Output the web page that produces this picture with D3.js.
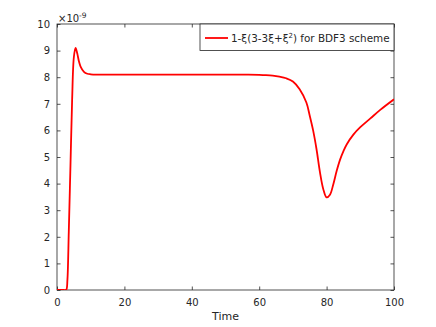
<!DOCTYPE html>
<html>
<head>
<meta charset="utf-8">
<script src="https://cdn.jsdelivr.net/npm/d3@7"></script>
<style>
  body { margin: 0; background: #fff; }
  text { font-family: "DejaVu Sans", sans-serif; fill: #262626; }
</style>
</head>
<body>
<div id="chart"></div>
<script>
// values (y in units of 1e-9)
const timeValues = [0, 1, 2, 2.5, 2.8, 3.1, 3.5, 4, 4.5, 5, 5.5, 6, 6.5, 7, 8, 9, 10, 12, 15, 20, 25, 30, 35, 40, 45, 50, 55, 60, 62, 64, 66, 68, 70, 72, 74, 75, 76, 77, 78, 79, 80, 81, 82, 83, 84, 85, 86, 88, 90, 93, 96, 100];
const errValues  = [0, 0, 0, 0, 0.02, 0.4, 2.2, 4.7, 7.2, 8.75, 9.1, 8.9, 8.6, 8.4, 8.2, 8.13, 8.11, 8.1, 8.1, 8.1, 8.1, 8.1, 8.1, 8.1, 8.1, 8.1, 8.1, 8.09, 8.08, 8.06, 8.02, 7.96, 7.84, 7.55, 7.05, 6.55, 6.0, 5.3, 4.45, 3.8, 3.48, 3.58, 3.98, 4.48, 4.9, 5.22, 5.48, 5.85, 6.12, 6.45, 6.78, 7.17];
const xTicks = [0, 20, 40, 60, 80, 100];
const yTicks = [0, 1, 2, 3, 4, 5, 6, 7, 8, 9, 10];
const seriesName = "for BDF3 scheme";

const W = 436, H = 327;
const margin = {top: 24, right: 42, bottom: 37, left: 57};
const width = W - margin.left - margin.right;
const height = H - margin.top - margin.bottom;

const svg = d3.select("#chart").append("svg")
    .attr("width", W)
    .attr("height", H);

const g = svg.append("g")
    .attr("transform", "translate(" + margin.left + "," + margin.top + ")");

const x = d3.scaleLinear().domain([0, 100]).range([0, width]);
const y = d3.scaleLinear().domain([0, 10]).range([height, 0]);

const axisColor = "#262626";

// box
g.append("rect")
    .attr("width", width)
    .attr("height", height)
    .attr("fill", "none")
    .attr("stroke", axisColor)
    .attr("stroke-width", 0.8);

// axes, ticks pointing inward
function style(sel) {
    sel.select(".domain").remove();
    sel.selectAll("line").attr("stroke", axisColor).attr("stroke-width", 0.8);
    sel.selectAll("text").attr("fill", axisColor).style("font-size", "10px")
        .style("font-family", "'DejaVu Sans', sans-serif");
}

g.append("g")
    .attr("transform", "translate(0," + height + ")")
    .call(d3.axisBottom(x).tickValues(xTicks).tickSizeInner(-3.5).tickSizeOuter(0).tickPadding(9))
    .call(style);
g.append("g")
    .call(d3.axisTop(x).tickValues(xTicks).tickSizeInner(-3.5).tickSizeOuter(0).tickFormat(""))
    .call(style);
g.append("g")
    .call(d3.axisLeft(y).tickValues(yTicks).tickSizeInner(-3.5).tickSizeOuter(0).tickPadding(7))
    .call(style);
g.append("g")
    .attr("transform", "translate(" + width + ",0)")
    .call(d3.axisRight(y).tickValues(yTicks).tickSizeInner(-3.5).tickSizeOuter(0).tickFormat(""))
    .call(style);

// exponent label
const expo = svg.append("text")
    .attr("x", margin.left + 1)
    .attr("y", margin.top - 2)
    .style("font-size", "10px");
expo.append("tspan").text("\u00d710");
expo.append("tspan").attr("dy", -4).style("font-size", "7.5px").text("-9");

// x label
svg.append("text")
    .attr("x", margin.left + width / 2)
    .attr("y", 320)
    .attr("text-anchor", "middle")
    .style("font-size", "11px")
    .text("Time");

// curve, clipped to the box
g.append("clipPath").attr("id", "clip")
    .append("rect").attr("width", width).attr("height", height);

const data = timeValues.map((t, i) => ({t: t, v: errValues[i]}));
const line = d3.line()
    .x(d => x(d.t))
    .y(d => y(d.v))
    .curve(d3.curveCatmullRom.alpha(0.5));

g.append("path")
    .datum(data)
    .attr("clip-path", "url(#clip)")
    .attr("fill", "none")
    .attr("stroke", "#ff0000")
    .attr("stroke-width", 1.8)
    .attr("d", line);

// legend
const lg = g.append("g").attr("transform", "translate(" + (200 - margin.left) + ",0)");
lg.append("rect")
    .attr("width", width - (200 - margin.left))
    .attr("height", 26.5)
    .attr("fill", "#fff")
    .attr("stroke", axisColor)
    .attr("stroke-width", 0.8);
lg.append("line")
    .attr("x1", 5).attr("x2", 28)
    .attr("y1", 14).attr("y2", 14)
    .attr("stroke", "#ff0000")
    .attr("stroke-width", 1.8);
const lt = lg.append("text")
    .attr("x", 31)
    .attr("y", 18)
    .style("font-size", "10.4px");
lt.append("tspan").text("1-\u03be(3-3\u03be+\u03be");
lt.append("tspan").attr("dy", -4).style("font-size", "7px").text("2");
lt.append("tspan").attr("dy", 4).text(") " + seriesName);
</script>
</body>
</html>
